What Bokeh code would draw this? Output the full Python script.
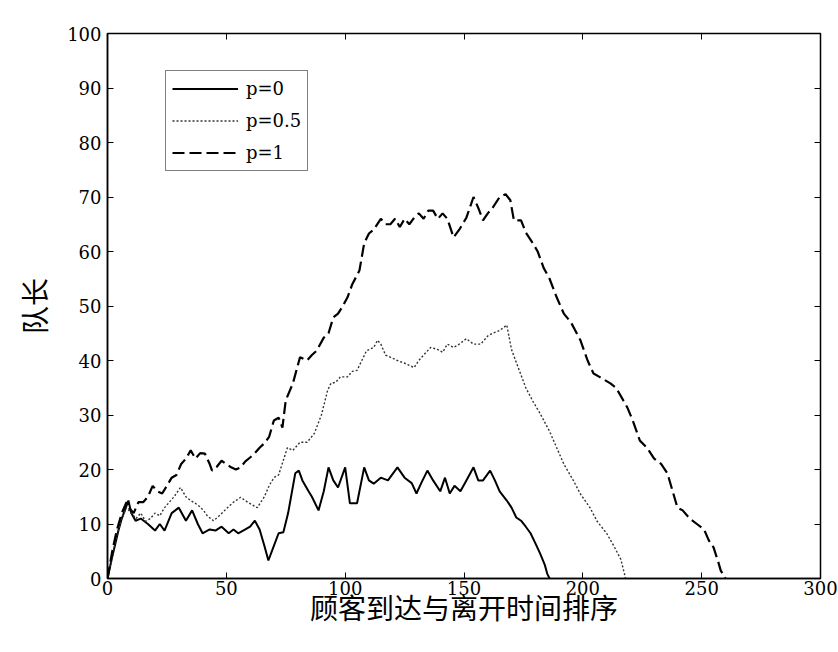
from bokeh.plotting import figure
from bokeh.models import Range1d, FixedTicker, LinearAxis, Legend, LegendItem
from bokeh.embed import file_html
from bokeh.resources import INLINE

# ---- data ----
x_ticks = [0, 50, 100, 150, 200, 250, 300]
y_ticks = [0, 10, 20, 30, 40, 50, 60, 70, 80, 90, 100]
series_labels = ["p=0", "p=0.5", "p=1"]

p0_x = [0, 2, 4.6, 6, 8.8, 10, 11.8, 14, 17, 20,
        22, 24, 27, 30, 33, 35.6, 38, 40, 43, 45.4,
        48, 51, 53, 55, 58, 60, 62, 64, 66, 67.7,
        70, 72, 74, 76, 79, 80.5, 82, 84.6, 86, 88.8,
        91, 93, 95, 97, 100, 102, 105, 108, 110, 112,
        115, 118, 122, 125, 128, 130, 132, 134.6, 137, 140,
        142, 144, 146, 148.5, 151, 154, 156, 158, 161, 163,
        165, 168, 170, 172, 174, 176, 178, 180, 182, 184,
        185, 186]
p0_y = [0, 4, 8.8, 11, 14.3, 12, 10.6, 11, 10, 8.8,
        10, 8.8, 12, 13, 10.6, 12.5, 10, 8.3, 9, 8.8,
        9.5, 8.3, 9, 8.3, 9, 9.5, 10.6, 9, 6, 3.3,
        6, 8.3, 8.5, 12, 19.3, 19.8, 18, 16, 15, 12.5,
        16, 20.4, 18, 16.7, 20.4, 13.8, 13.8, 20.4, 18, 17.4,
        18.5, 18, 20.4, 18.5, 17.5, 15.6, 17.5, 19.8, 18, 16,
        18.5, 15.6, 17, 16, 18, 20.4, 18, 18, 19.8, 18,
        16, 14.3, 13, 11.2, 10.6, 9.5, 8.3, 6.5, 4.6, 2.5,
        0.9, 0]

p05_x = [0, 2, 4, 6, 8, 10, 12, 14, 16, 18,
         20, 22, 24, 26, 28, 30.7, 33, 35, 38, 40.4,
         42, 44.6, 47, 50.5, 53, 56, 59, 61, 63, 66,
         68, 70, 72, 75.7, 78, 81, 84, 87, 90, 92.6,
         94, 96, 98, 101, 103, 105, 107, 109, 112, 113.6,
         115, 117, 119, 122, 125, 129, 131, 133, 136, 139,
         141, 143, 145.6, 148, 151, 154, 157, 160, 162, 165,
         168, 170, 173, 176, 179, 182, 186, 189, 192, 196,
         199, 203, 206, 210, 213, 216, 218]
p05_y = [0, 4, 8, 11, 13, 12, 11, 12, 10.5, 11,
         12, 11.5, 13, 14, 15, 16.7, 15, 14.3, 13.5, 12.5,
         11.5, 10.6, 11.5, 13, 14, 14.9, 14, 13.5, 13, 15,
         17, 18.5, 19, 24, 23.5, 25, 25, 26.6, 30, 34.5,
         35.8, 36, 37, 37, 38, 38.2, 40, 41.8, 42.4, 43.7,
         43, 41, 40.6, 40, 39.5, 38.7, 40, 41, 42.4, 42,
         41.5, 43, 42.4, 43, 44, 43, 43, 44.5, 45, 45.5,
         46.5, 42, 38.5, 35, 32.5, 30.3, 27, 24, 21, 18,
         15.5, 13, 10.5, 8.3, 6, 3.5, 0]

p1_x = [0, 2, 4, 6, 8, 9, 11, 13, 15, 17,
        19, 21, 23, 25, 27, 29, 31, 33, 35, 37,
        39, 41, 43, 44, 46, 48, 50, 52, 54, 56,
        58, 60, 62, 64, 66, 68, 70, 72, 73.6, 75,
        78, 81, 84, 86, 88, 91, 93, 95, 97, 99,
        101, 103, 106, 108, 110, 112, 115, 117, 119, 121,
        123, 125, 127, 129, 131, 133, 135, 137, 139, 141,
        143, 145.6, 148, 151, 154, 156, 158, 160, 162, 165,
        167.5, 169.5, 171, 174, 176, 179, 181, 183.5, 186, 189,
        192, 195, 199, 202, 204.5, 207, 211.6, 214, 218.7, 221,
        224, 227, 230, 233, 235.6, 239.8, 242, 245, 248, 251,
        253, 255, 257, 258, 260]
p1_y = [0, 5, 9, 12, 14, 13, 12, 14, 14, 15,
        17, 16, 15.6, 17, 18.5, 19, 21, 22, 23.5, 22,
        23, 22.9, 21, 19.8, 20.5, 21.6, 21, 20.4, 20, 20.4,
        21.5, 22.2, 23, 24, 24.8, 26, 29, 29.5, 27.7, 32.7,
        35.8, 40.6, 40, 41, 41.8, 44.2, 45, 47.9, 48.6, 50,
        51.6, 54, 56.5, 61.5, 63.3, 64, 66, 65, 65, 66,
        64.5, 66, 65, 66.2, 67, 66, 67.5, 67.5, 66, 67,
        66, 62.6, 64, 66.2, 70, 68, 65.7, 67, 68, 70,
        70.5, 69.4, 65.7, 65.7, 63.5, 61.5, 60, 57, 55, 51.6,
        48.6, 47, 43.7, 40, 37.6, 37, 35.8, 35, 31.4, 29,
        25.3, 24, 22, 21, 19.3, 13, 12.5, 11, 10, 9,
        7, 5.7, 3, 1.5, 0]

SERIF = "DejaVu Serif"
CJK = "Noto Sans CJK SC"

p = figure(width=838, height=652, output_backend="svg", toolbar_location=None,
           x_range=Range1d(0, 300), y_range=Range1d(0, 100),
           min_border_left=107, min_border_right=18, min_border_top=33,
           min_border_bottom=74)
p.background_fill_color = "white"
p.border_fill_color = "white"
p.outline_line_color = "black"
p.outline_line_width = 1.5
p.xgrid.visible = False
p.ygrid.visible = False

r0 = p.line(p0_x, p0_y, line_color="black", line_width=2.0)
r05 = p.line(p05_x, p05_y, line_color="#333333", line_width=1.4, line_dash="2 2")
r1 = p.line(p1_x, p1_y, line_color="black", line_width=2.2, line_dash="12 5")

for ax, ticks in ((p.xaxis[0], x_ticks), (p.yaxis[0], y_ticks)):
    ax.ticker = FixedTicker(ticks=ticks)
    ax.major_tick_in = 6
    ax.major_tick_out = 0
    ax.minor_tick_in = 0
    ax.minor_tick_out = 0
    ax.axis_line_color = "black"
    ax.axis_line_width = 1.5
    ax.major_tick_line_color = "black"
    ax.major_label_text_font = SERIF
    ax.major_label_text_font_size = "18px"
    ax.major_label_text_color = "black"
    ax.axis_label_text_font = CJK
    ax.axis_label_text_font_size = "28px"
    ax.axis_label_text_font_style = "normal"
    ax.axis_label_text_color = "black"

p.xaxis[0].major_label_standoff = 2
p.yaxis[0].major_label_standoff = 6
p.xaxis[0].axis_label = "顾客到达与离开时间排序"
p.yaxis[0].axis_label = "队长"
p.xaxis[0].axis_label_standoff = -11
p.yaxis[0].axis_label_standoff = 10

top = LinearAxis(ticker=FixedTicker(ticks=x_ticks), major_tick_in=6, major_tick_out=0,
                 minor_tick_in=0, minor_tick_out=0, axis_line_color=None,
                 major_label_overrides={t: "" for t in x_ticks}, major_label_standoff=0)
right = LinearAxis(ticker=FixedTicker(ticks=y_ticks), major_tick_in=6, major_tick_out=0,
                   minor_tick_in=0, minor_tick_out=0, axis_line_color=None,
                   major_label_overrides={t: "" for t in y_ticks}, major_label_standoff=0)
p.add_layout(top, "above")
p.add_layout(right, "right")

legend = Legend(items=[LegendItem(label=series_labels[0], renderers=[r0]),
                       LegendItem(label=series_labels[1], renderers=[r05]),
                       LegendItem(label=series_labels[2], renderers=[r1])],
                location=(58, 407))
legend.label_text_font = SERIF
legend.label_text_font_size = "18px"
legend.label_text_color = "black"
legend.glyph_width = 66
legend.glyph_height = 23
legend.label_height = 23
legend.spacing = 9
legend.padding = 6
legend.margin = 0
legend.label_standoff = 8
legend.border_line_color = "black"
legend.border_line_width = 1.5
legend.background_fill_color = "white"
legend.background_fill_alpha = 1.0
p.add_layout(legend, "center")

open("out.html", "w").write(file_html(p, INLINE))
